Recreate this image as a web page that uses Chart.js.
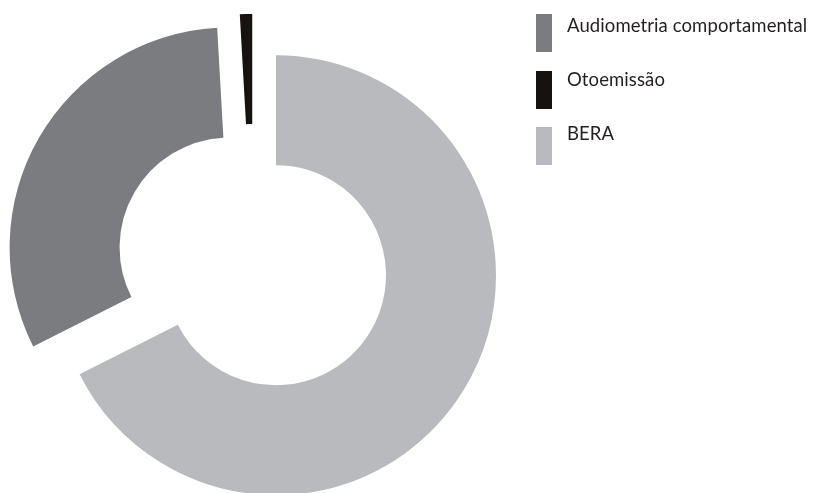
<!DOCTYPE html>
<html>
<head>
<meta charset="utf-8">
<script src="https://cdn.jsdelivr.net/npm/chart.js@4/dist/chart.umd.min.js"></script>
<style>
    html, body { margin: 0; padding: 0; background: #fff; }
    .wrap { position: relative; width: 813px; height: 493px; overflow: hidden; }
    #legend { position: absolute; left: 536px; top: 14px; margin: 0; padding: 0; list-style: none; font-family: Lato, sans-serif; font-size: 18.5px; color: #231f20; }
    #legend li { position: relative; height: 38px; margin-bottom: 18.65px; }
    #legend .box { position: absolute; left: 0; top: 0; width: 16px; height: 38px; }
    #legend .txt { position: absolute; left: 31px; line-height: 18.5px; white-space: nowrap; letter-spacing: 0.1px; }
</style>
</head>
<body>
<div class="wrap">
    <canvas id="pieChart"></canvas>
    <ul id="legend"></ul>
</div>
<script>
const categories = ['Audiometria comportamental', 'Otoemissão', 'BERA'];
const values = [35, 1, 75];
const colors = ['#7b7c80', '#16120f', '#b9babe'];

// all slices pulled out the same distance (px)
const EXPLODE = 27;

document.addEventListener('DOMContentLoaded', function () {
    const total = values.reduce((a, b) => a + b, 0);

    // shift every arc outward along its own mid angle
    const explodePlugin = {
        id: 'explode',
        afterUpdate(chart) {
            chart.getDatasetMeta(0).data.forEach(function (arc) {
                if (arc._exploded) return;
                const draw = arc.draw;
                arc.draw = function (ctx) {
                    const mid = (this.startAngle + this.endAngle) / 2;
                    ctx.save();
                    ctx.translate(Math.cos(mid) * EXPLODE, Math.sin(mid) * EXPLODE);
                    draw.call(this, ctx);
                    ctx.restore();
                };
                arc._exploded = true;
            });
        }
    };

    const pieCtx = document.getElementById('pieChart').getContext('2d');
    const pieChart = new Chart(pieCtx, {
        type: 'doughnut',
        data: {
            labels: categories,
            datasets: [{
                data: values,
                backgroundColor: colors,
                borderWidth: 0,
                hoverOffset: 0,
                clip: false
            }]
        },
        options: {
            responsive: true,
            maintainAspectRatio: false,
            animation: false,
            cutout: '50%',
            // BERA starts at 12 o'clock, the other two follow it
            rotation: -360 * (values[0] + values[1]) / total,
            layout: {
                padding: { left: 33, top: 41, right: 340, bottom: 12 }
            },
            plugins: {
                legend: { display: false },
                tooltip: { enabled: false }
            }
        },
        plugins: [explodePlugin]
    });

    // html legend, text sits a little higher on each lower row
    const legend = document.getElementById('legend');
    pieChart.data.labels.forEach(function (label, i) {
        const li = document.createElement('li');
        li.innerHTML = '<span class="box" style="background:' + colors[i] + '"></span>' +
            '<span class="txt" style="top:' + (1.7 - 2.3 * i) + 'px">' + label + '</span>';
        legend.appendChild(li);
    });

    window.pieChart = pieChart;
});
</script>
</body>
</html>
